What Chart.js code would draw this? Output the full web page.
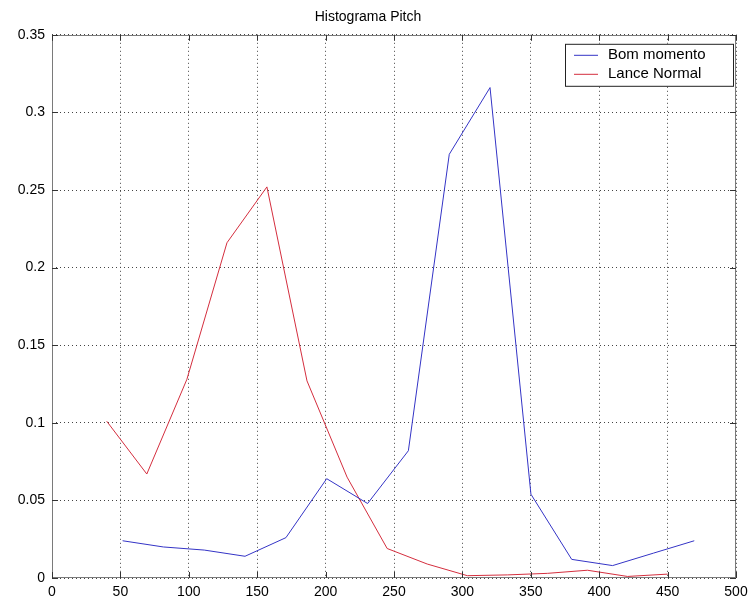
<!DOCTYPE html>
<html>
<head>
<meta charset="utf-8">
<title>Histograma Pitch</title>
<script src="https://cdn.jsdelivr.net/npm/chart.js@4/dist/chart.umd.min.js"></script>
<style>
  html, body { margin: 0; padding: 0; background: #fff; }
  #wrap { width: 749px; height: 598px; position: relative; }
</style>
</head>
<body>
<div id="wrap"><canvas id="pitchChart" width="749" height="598"></canvas></div>
<script>
// pitch histogram bins (Hz) and normalised counts
const bomX = [51.6, 81.4, 111.3, 141.1, 171, 200.8, 230.7, 260.5, 290.4, 320.2, 350.1, 379.9, 409.8, 439.6, 469.5];
const bomY = [0.024, 0.020, 0.018, 0.014, 0.026, 0.064, 0.048, 0.082, 0.273, 0.316, 0.054, 0.012, 0.008, 0.016, 0.024];
const lanceX = [40, 69.3, 98.6, 127.9, 157.1, 186.4, 215.7, 245, 274.3, 303.6, 332.9, 362.1, 391.4, 420.7, 450];
const lanceY = [0.101, 0.067, 0.128, 0.216, 0.252, 0.127, 0.065, 0.019, 0.009, 0.0015, 0.002, 0.003, 0.005, 0.001, 0.0025];
const seriesNames = ['Bom momento', 'Lance Normal'];
const seriesColors = ['#3434c6', '#d42e3e'];
const xTicks = [0, 50, 100, 150, 200, 250, 300, 350, 400, 450, 500];
const yTicks = [0, 0.05, 0.1, 0.15, 0.2, 0.25, 0.3, 0.35];

const FONT = 'Liberation Sans, Arial, sans-serif';

const toPoints = (xs, ys) => xs.map((x, i) => ({ x: x, y: ys[i] }));

// box around the axes plus inward tick marks on all four sides
const axesBox = {
  id: 'axesBox',
  afterDatasetsDraw(chart) {
    const { ctx, chartArea: a, scales } = chart;
    ctx.save();
    ctx.strokeStyle = '#7a7a7a';
    ctx.lineWidth = 1;
    ctx.strokeRect(Math.round(a.left) + 0.5, Math.round(a.top) + 0.5,
      Math.round(a.right - a.left) - 1, Math.round(a.bottom - a.top) - 1);
    ctx.strokeStyle = '#333';
    ctx.beginPath();
    xTicks.forEach((v) => {
      const px = Math.round(scales.x.getPixelForValue(v)) + 0.5;
      ctx.moveTo(px, a.bottom); ctx.lineTo(px, a.bottom - 6);
      ctx.moveTo(px, a.top); ctx.lineTo(px, a.top + 6);
    });
    yTicks.forEach((v) => {
      const py = Math.round(scales.y.getPixelForValue(v)) + 0.5;
      ctx.moveTo(a.left, py); ctx.lineTo(a.left + 6, py);
      ctx.moveTo(a.right, py); ctx.lineTo(a.right - 6, py);
    });
    ctx.stroke();
    ctx.restore();
  }
};

// legend box in the upper right corner of the plot
const boxLegend = {
  id: 'boxLegend',
  afterDraw(chart) {
    const { ctx, chartArea: a } = chart;
    const w = 168, h = 42;
    const x0 = a.right - w - 3, y0 = a.top + 9;
    ctx.save();
    ctx.fillStyle = '#fff';
    ctx.fillRect(x0, y0, w, h);
    ctx.strokeStyle = '#222';
    ctx.lineWidth = 1;
    ctx.strokeRect(x0 + 0.5, y0 + 0.5, w, h);
    ctx.font = '15px ' + FONT;
    ctx.textBaseline = 'middle';
    chart.data.datasets.forEach((ds, i) => {
      const cy = y0 + 11 + i * 19;
      ctx.strokeStyle = ds.borderColor;
      ctx.beginPath();
      ctx.moveTo(x0 + 9, cy + 0.5);
      ctx.lineTo(x0 + 33, cy + 0.5);
      ctx.stroke();
      ctx.fillStyle = '#000';
      ctx.fillText(ds.label, x0 + 43, cy);
    });
    ctx.restore();
  }
};

const ctx = document.getElementById('pitchChart').getContext('2d');
new Chart(ctx, {
  type: 'line',
  data: {
    datasets: [
      {
        label: seriesNames[0],
        data: toPoints(bomX, bomY),
        borderColor: seriesColors[0],
        borderWidth: 1,
        pointRadius: 0,
        tension: 0,
        fill: false,
      },
      {
        label: seriesNames[1],
        data: toPoints(lanceX, lanceY),
        borderColor: seriesColors[1],
        borderWidth: 1,
        pointRadius: 0,
        tension: 0,
        fill: false,
      },
    ],
  },
  options: {
    responsive: false,
    animation: false,
    layout: { padding: { left: 0, right: 13, top: 0, bottom: 0 } },
    plugins: {
      legend: { display: false },
      tooltip: { enabled: false },
      title: {
        display: true,
        text: 'Histograma Pitch',
        color: '#000',
        font: { family: FONT, size: 14, weight: 'normal' },
        padding: { top: 9, bottom: 9 },
      },
    },
    scales: {
      x: {
        type: 'linear',
        min: 0,
        max: 500,
        afterBuildTicks: (s) => { s.ticks = xTicks.map((v) => ({ value: v })); },
        // keep the plot edges fixed; the end labels fit in the margins
        afterFit: (s) => { s.height = 20; s.paddingLeft = 0; s.paddingRight = 0; },
        grid: { color: '#444', lineWidth: 1, drawTicks: false },
        border: { display: false, dash: [1, 3] },
        ticks: { color: '#000', padding: 6, maxRotation: 0, font: { family: FONT, size: 14 } },
      },
      y: {
        type: 'linear',
        min: 0,
        max: 0.35,
        afterBuildTicks: (s) => { s.ticks = yTicks.map((v) => ({ value: v })); },
        afterFit: (s) => { s.width = 52; },
        grid: { color: '#444', lineWidth: 1, drawTicks: false },
        border: { display: false, dash: [1, 3] },
        ticks: {
          color: '#000',
          padding: 7,
          font: { family: FONT, size: 14 },
          callback: (v) => String(+v.toFixed(2)),
        },
      },
    },
  },
  plugins: [axesBox, boxLegend],
});
</script>
</body>
</html>
